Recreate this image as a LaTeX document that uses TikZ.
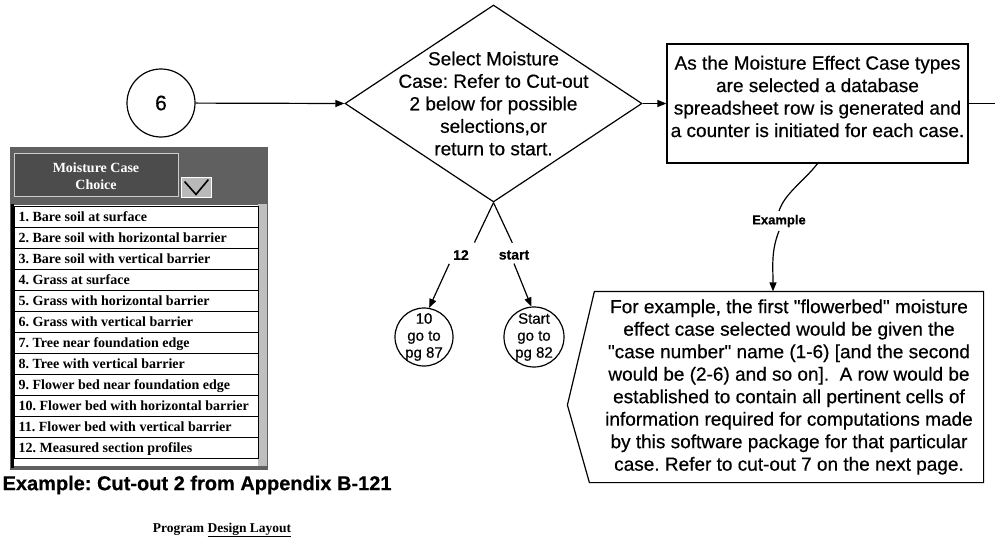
\documentclass[tikz,border=0pt]{standalone}
\usepackage{fontspec}
\setmainfont[FakeBold=0.5]{Liberation Sans}
\newfontfamily\panelfont{Liberation Serif}
\usetikzlibrary{arrows.meta,shapes.geometric}
\frenchspacing
\newcommand{\qq}{\textquotedbl}
\begin{document}
\frenchspacing
\begin{tikzpicture}[x=1pt,y=-1pt,line width=1.2pt,
  >={Triangle[length=9pt,width=7pt]},
  txt/.style={font=\fontsize{19}{22.5}\selectfont,align=center},
  circ/.style={circle,draw,line width=1.2pt,inner sep=0pt},
  smalltxt/.style={font=\fontsize{15}{17}\selectfont,align=center},
  lbl/.style={font=\bfseries\fontsize{14}{16}\selectfont},
  rowtxt/.style={anchor=base west,font=\panelfont\bfseries\fontsize{14}{16}\selectfont,inner sep=0pt},
  rowbox/.style={draw,line width=0.8pt}]
\useasboundingbox (0,0) rectangle (995,543);
\fill[white] (0,0) rectangle (995,543);

% main flow
\node[circ,minimum size=68pt,font=\fontsize{21}{24}\selectfont] (six) at (161,103) {6};
\node[diamond,draw,minimum width=297pt,minimum height=197pt,inner sep=0pt,
  label={[txt]center:{Select Moisture\\Case: Refer to Cut-out\\2 below for possible\\selections,or\\return to start.}}] (dia) at (493.5,103.5) {};
\node[draw,minimum width=301pt,minimum height=119pt,inner sep=0pt,
  label={[txt,yshift=7pt]center:{As the Moisture Effect Case types\\are selected a database\\spreadsheet row is generated and\\a counter is initiated for each case.}}] (box) at (817.5,103.5) {};
\coordinate (out) at (995,103.5);
\draw[->] (six) -- (dia.west);
\draw[->] (dia.east) -- (box.west);
\draw (box.east) -- (out);

% example callout
\node[font=\bfseries\fontsize{13}{15}\selectfont] (ex) at (779,221) {Example};
\node[txt,minimum width=388pt,minimum height=190pt,inner sep=0pt] (note) at (789,387)
 {For example, the first \qq flowerbed\qq\ moisture\\effect case selected would be given the\\\qq case number\qq\ name (1-6) [and the second\\would be (2-6) and so on].\ \ A row would be\\established to contain all pertinent cells of\\information required for computations made\\by this software package for that particular\\case. Refer to cut-out 7 on the next page.};
\draw (note.north west) -- (note.north east) -- (note.south east) -- ([xshift=-5pt]note.south west)
  -- ([xshift=-27pt,yshift=-18pt]note.west) -- cycle;
\draw (box.south) .. controls +(-14,18) and +(6,-18) .. (ex.north);
\draw[->] (ex.south) .. controls +(-8,20) and +(0,-25) .. ([xshift=-16pt]note.north);

% branches
\node[lbl] (l12) at (461,255) {12};
\node[lbl] (lst) at (514,255) {start};
\node[circ,minimum size=58pt,label={[smalltxt]center:{10\\go to\\pg 87}}] (c10) at (424,337) {};
\node[circ,minimum size=60pt,label={[smalltxt]center:{Start\\go to\\pg 82}}] (cst) at (534,337) {};
\draw[shorten >=4pt] (dia.south) -- (l12.north east);
\draw[shorten >=4pt] (dia.south) -- (lst.north);
\draw[->] (l12.south west) -- (c10.80);
\draw[->] (lst.south) -- (cst.95);

% cut-out panel
\fill[gray!75!black] (10,147) rectangle (268,470);
\draw[draw=gray!40,line width=0.6pt,fill=gray!60!black] (14,153) rectangle (178,196);
\node[font=\panelfont\bfseries\fontsize{14}{17}\selectfont,text=white,align=center] (hdr) at (96,176) {Moisture Case\\Choice};
\node[draw=white,fill=gray!55,line width=0.8pt,minimum width=30pt,minimum height=20pt,inner sep=0pt] (dd) at (196,187) {};
\draw[line width=1.6pt] ([shift={(4pt,-5pt)}]dd.north west) -- ([yshift=3pt]dd.south) -- ([shift={(-3pt,-3pt)}]dd.north east);
\fill[gray!50] (258,204) rectangle (267,466);
\fill[white] (14,205) rectangle (258,466);
\draw[line width=3pt] (12,204) -- (12,468);
\foreach \i/\t in {1/{1. Bare soil at surface},2/{2. Bare soil with horizontal barrier},3/{3. Bare soil with vertical barrier},4/{4. Grass at surface},5/{5. Grass with horizontal barrier},6/{6. Grass with vertical barrier},7/{7. Tree near foundation edge},8/{8. Tree with vertical barrier},9/{9. Flower bed near foundation edge},10/{10. Flower bed with horizontal barrier},11/{11. Flower bed with vertical barrier},12/{12. Measured section profiles}}{
  \draw[rowbox] (14,{206+21*(\i-1)}) rectangle (258,{227+21*(\i-1)});
  \node[rowtxt] (r\i) at (18,{221.5+21*(\i-1)}) {\t};
}

% captions
\node[anchor=west,font=\bfseries\fontsize{20}{24}\selectfont,inner sep=0pt] (cap) at (2,485) {Example: Cut-out 2 from Appendix B-121};
\node[font=\panelfont\bfseries\fontsize{13.5}{16}\selectfont] (pdl) at (222,530) {Program \underline{Design Layout}};
\end{tikzpicture}
\end{document}
